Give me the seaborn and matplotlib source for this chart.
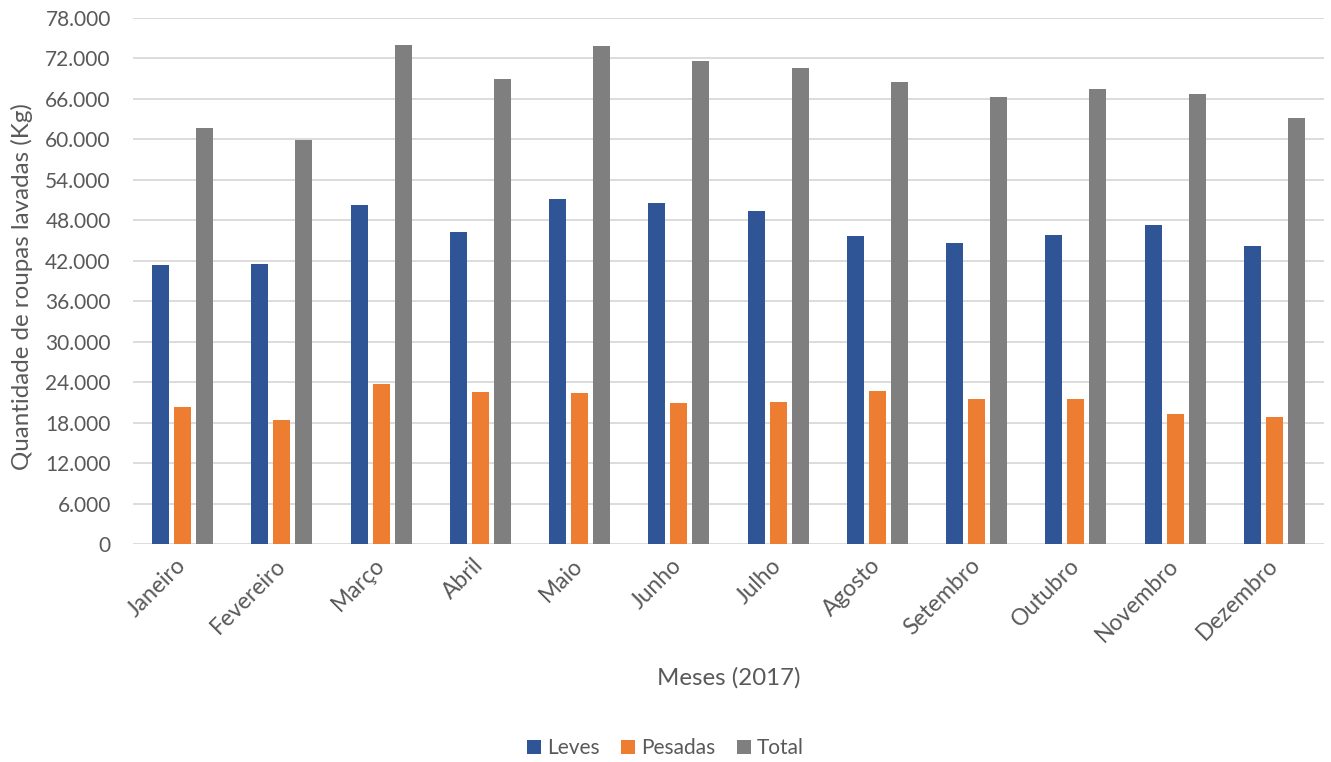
import matplotlib
matplotlib.use("Agg")
import matplotlib.pyplot as plt
import seaborn as sns
import pandas as pd
from matplotlib.ticker import FuncFormatter, MultipleLocator

months = ["Janeiro", "Fevereiro", "Março", "Abril", "Maio", "Junho",
          "Julho", "Agosto", "Setembro", "Outubro", "Novembro", "Dezembro"]
leves = [41400, 41450, 50250, 46300, 51200, 50550, 49400, 45600, 44700, 45800, 47300, 44150]
pesadas = [20300, 18350, 23700, 22550, 22450, 20900, 21100, 22750, 21500, 21450, 19350, 18900]
total = [61700, 59900, 74000, 69000, 73800, 71650, 70600, 68550, 66300, 67400, 66750, 63100]
series = ["Leves", "Pesadas", "Total"]
colors = ["#2F5597", "#ED7D31", "#7F7F7F"]

rows = []
for name, vals in zip(series, [leves, pesadas, total]):
    for m, v in zip(months, vals):
        rows.append({"Mês": m, "Série": name, "Valor": v})
df = pd.DataFrame(rows)

sns.set_theme(style="white")
plt.rcParams["font.family"] = ["Lato", "DejaVu Sans"]
text_color = "#595959"

fig = plt.figure(figsize=(13.31, 7.62), dpi=100)
ax = fig.add_axes([133/1331, 1-544/762, (1324-133)/1331, (544-18)/762])

sns.barplot(data=df, x="Mês", y="Valor", hue="Série", order=months,
            hue_order=series, palette=colors, width=0.665, gap=0.23,
            saturation=1, ax=ax, legend=True, edgecolor="none")

ax.set_ylim(0, 78000)
ax.set_xlim(-0.5, len(months) - 0.5)
ax.yaxis.set_major_locator(MultipleLocator(6000))
ax.yaxis.set_major_formatter(FuncFormatter(lambda v, p: f"{int(v):,}".replace(",", ".")))
ax.grid(axis="y", color="#D9D9D9", linewidth=1.3)
ax.set_axisbelow(True)
for s in ax.spines.values():
    s.set_visible(False)

ax.tick_params(axis="y", length=0, pad=16, labelsize=15, labelcolor=text_color)
ax.tick_params(axis="x", length=0, pad=13, labelsize=16.5, labelcolor=text_color)
for lbl in ax.get_xticklabels():
    lbl.set_rotation(45)
    lbl.set_ha("right")
    lbl.set_va("center")
    lbl.set_rotation_mode("anchor")

ax.set_xlabel("Meses (2017)", fontsize=17.3, color=text_color)
ax.xaxis.set_label_coords(0.5, (544-667)/526)
ax.set_ylabel("Quantidade de roupas lavadas (Kg)", fontsize=17.4, color=text_color)
ax.yaxis.set_label_coords((33-133)/1191, 0.49)

handles, labels = ax.get_legend_handles_labels()
ax.legend_.remove()
fig.legend(handles, labels, loc="center", bbox_to_anchor=(0.5, 1-748/762),
           ncol=3, frameon=False, fontsize=15, labelcolor=text_color,
           handlelength=0.65, handleheight=0.65, handletextpad=0.3,
           columnspacing=1.05)

fig.savefig("out.png", dpi=100)
